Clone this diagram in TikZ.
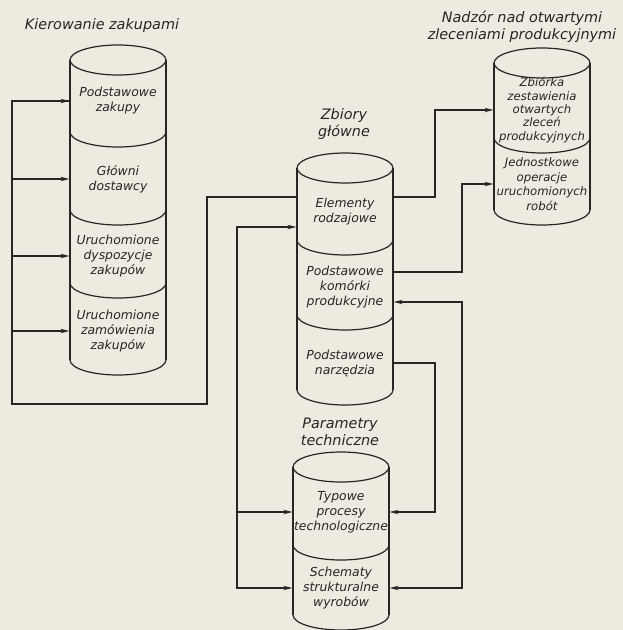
\documentclass[tikz,border=0pt]{standalone}
\usepackage{fontspec}
\setmainfont{DejaVu Sans}
\usetikzlibrary{arrows.meta}
\definecolor{papier}{HTML}{EEEAE0}
\definecolor{tusz}{HTML}{262626}
\newcommand{\przegroda}[2]{%
	\draw (#1-48,#2) .. controls (#1-48,#2+8.3) and (#1-26.5,#2+15) .. (#1,#2+15)
		.. controls (#1+26.5,#2+15) and (#1+48,#2+8.3) .. (#1+48,#2);
}
\newcommand{\beczka}[3]{%
	\draw (#1,#2) ellipse [x radius=48pt,y radius=15pt];
	\draw (#1-48,#2)--(#1-48,#3);
	\draw (#1+48,#2)--(#1+48,#3);
	\przegroda{#1}{#3}
}

\begin{document}
\begin{tikzpicture}[x=1pt,y=-1pt,line width=1.2pt,color=tusz,
	>={Stealth[length=9pt,width=4.5pt]},
	opis/.style={font=\itshape\fontsize{12.4}{15}\selectfont,align=center,inner sep=0pt,minimum width=96pt},
	tytul/.style={font=\itshape\fontsize{14.4}{17}\selectfont,align=center,inner sep=0pt}]
			\fill[papier] (0,0) rectangle (623,630);
			\useasboundingbox (0,0) rectangle (623,630);

			\beczka{118}{60}{360}
			\foreach \y in {132,210,283} {\przegroda{118}{\y}}
			\beczka{345}{168}{390}
			\foreach \y in {240,315} {\przegroda{345}{\y}}
			\beczka{341}{467}{615}
			\przegroda{341}{545}
			\beczka{542}{63}{210}
			\przegroda{542}{138}

			\node[tytul] (kier) at (102,26) {Kierowanie zakupami};
			\node[tytul] (glow) at (344,124) {Zbiory\\główne};
			\node[tytul] (param) at (340,432) {Parametry\\techniczne};
			\node[tytul] (nadz) at (522,27) {Nadzór nad otwartymi\\zleceniami produkcyjnymi};

			\node[opis] (zak) at (118,101) {Podstawowe\\zakupy};
			\node[opis] (dost) at (118,179) {Główni\\dostawcy};
			\node[opis] (dysp) at (118,256) {Uruchomione\\dyspozycje\\zakupów};
			\node[opis] (zam) at (118,331) {Uruchomione\\zamówienia\\zakupów};
			\node[opis] (elem) at (345,212) {Elementy\\rodzajowe};
			\node[opis] (kom) at (345,287) {Podstawowe\\komórki\\produkcyjne};
			\node[opis] (narz) at (345,363) {Podstawowe\\narzędzia};
			\node[opis] (typ) at (341,512) {Typowe\\procesy\\technologiczne};
			\node[opis] (schem) at (341,588) {Schematy\\strukturalne\\wyrobów};
			\node[opis,font=\itshape\fontsize{11.7}{13.3}\selectfont] (zbi) at (542,110) {Zbiórka\\zestawienia\\otwartych\\zleceń\\produkcyjnych};
			\node[opis,font=\itshape\fontsize{11.7}{14.7}\selectfont] (jed) at (542,184) {Jednostkowe\\operacje\\uruchomionych\\robót};

			\coordinate (k1) at (207,404);
			\coordinate (k2) at (12,404);
			\coordinate (k3) at (237,0);
			\coordinate (k4) at (435,0);
			\coordinate (k5) at (462,0);

			\draw ([yshift=15pt]elem.west) -| (k1) -- (k2) |- (zak.west);
			\foreach \n in {zak,dost,dysp,zam} \draw[->] (k2 |- \n.west) -- (\n.west);
			\draw[<->] ([yshift=-15pt]elem.west) -| (k3 |- schem.west) -- (schem.west);
			\draw[->] (k3 |- typ.west) -- (typ.west);
			\draw[->] ([yshift=15pt]elem.east) -| (k4 |- zbi.west) -- (zbi.west);
			\draw[->] (narz.east) -| (k4 |- typ.east) -- (typ.east);
			\draw[->] ([yshift=15pt]kom.east) -| (k5 |- jed.west) -- (jed.west);
			\draw[<->] ([yshift=-15pt]kom.east) -| (k5 |- schem.east) -- (schem.east);
		\end{tikzpicture}
\end{document}
